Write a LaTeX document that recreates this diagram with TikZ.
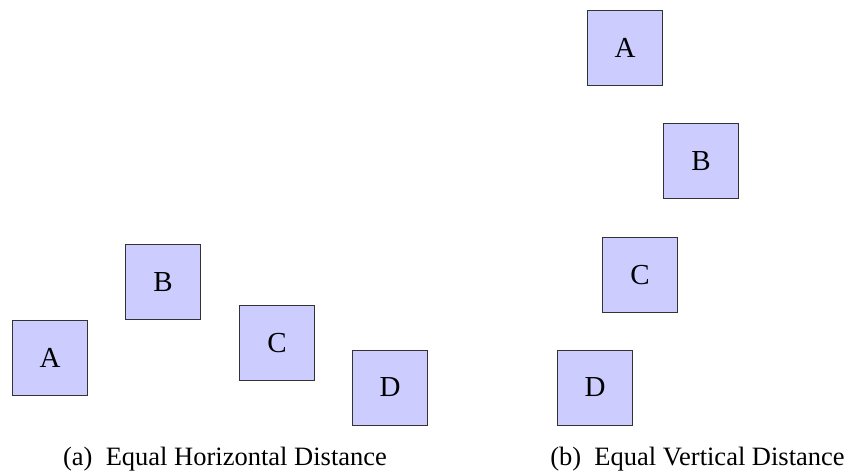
\documentclass[tikz,border=0pt]{standalone}
\usepackage{fontspec}
\setmainfont{Liberation Serif}
\begin{document}
\begin{tikzpicture}[x=1pt,y=-1pt,
  boxnode/.style={draw=black!80,fill=blue!20,line width=0.9pt,minimum size=75pt,inner sep=0pt,font=\fontsize{29}{32}\selectfont},
  capnode/.style={anchor=base,inner sep=0pt,font=\fontsize{26.5}{30}\selectfont}]
\useasboundingbox (0,0) rectangle (848,474);
\node[boxnode] (la) at (50,357.5) {A};
\node[boxnode] (lb) at (163,282) {B};
\node[boxnode] (lc) at (277,343) {C};
\node[boxnode] (ld) at (390,387.5) {D};
\node[boxnode] (ra) at (625,47.5) {A};
\node[boxnode] (rb) at (701,161) {B};
\node[boxnode] (rc) at (640,275) {C};
\node[boxnode] (rd) at (595,387.5) {D};
\node[capnode] (capa) at (225,465) {(a)\hspace{0.5em}Equal Horizontal Distance};
\node[capnode] (capb) at (697.5,465) {(b)\hspace{0.5em}Equal Vertical Distance};
\end{tikzpicture}
\end{document}
